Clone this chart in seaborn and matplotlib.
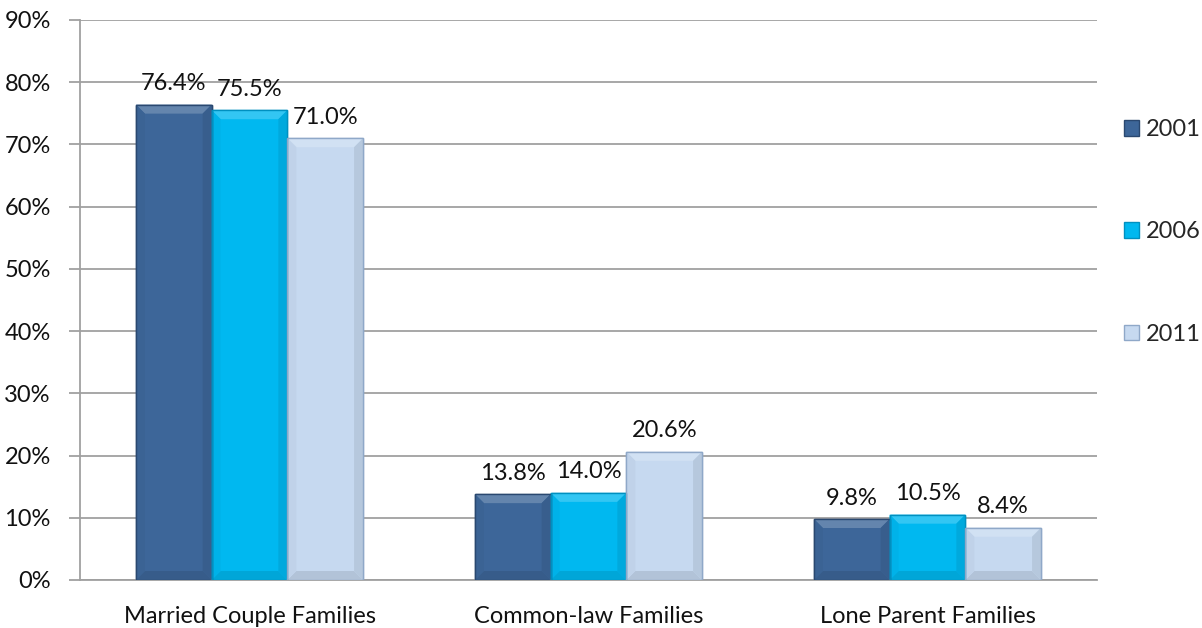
import numpy as np
import matplotlib.pyplot as plt
import matplotlib.colors as mcolors
import pandas as pd
import seaborn as sns

categories = ['Married Couple Families', 'Common-law Families', 'Lone Parent Families']
years = ['2001', '2006', '2011']
pct_2001 = [76.4, 13.8, 9.8]
pct_2006 = [75.5, 14.0, 10.5]
pct_2011 = [71.0, 20.6, 8.4]
yticks = [0, 10, 20, 30, 40, 50, 60, 70, 80, 90]

df = pd.DataFrame({
    'family': categories * 3,
    'year': [y for y in years for _ in categories],
    'pct': pct_2001 + pct_2006 + pct_2011,
})

colors = ['#3D6699', '#00B8F0', '#C6D9F0']
edges = ['#2A4870', '#0090C0', '#8FA8C8']


def mix(c, other, t):
    a = np.array(mcolors.to_rgb(c))
    b = np.array(mcolors.to_rgb(other))
    return tuple(a * (1 - t) + b * t)


sns.set_style('white')
plt.rcParams['font.family'] = ['Lato', 'DejaVu Sans']
FS = 17

W, H = 1202, 628
fig = plt.figure(figsize=(W / 100, H / 100), dpi=100)
ax_px = [80, 48, 1017, 560]
ax = fig.add_axes([ax_px[0] / W, ax_px[1] / H, ax_px[2] / W, ax_px[3] / H])

sns.barplot(data=df, x='family', y='pct', hue='year', palette=colors,
            width=0.67, ax=ax, legend=False, saturation=1)

ax.set_xlim(-0.5, 2.5)
ax.set_ylim(0, 90)

# bevel look, sized in pixels and converted to data units
dx = 9 * 3 / ax_px[2]
dy = 9 * 90 / ax_px[3]
for i, cont in enumerate(ax.containers):
    c = colors[i]
    for bar in cont:
        bar.set_edgecolor(edges[i])
        bar.set_linewidth(1.0)
        x0, w, h = bar.get_x(), bar.get_width(), bar.get_height()
        x1 = x0 + w
        top = [(x0, h), (x1, h), (x1 - dx, h - dy), (x0 + dx, h - dy)]
        bot = [(x0, 0), (x1, 0), (x1 - dx, dy), (x0 + dx, dy)]
        left = [(x0, 0), (x0, h), (x0 + dx, h - dy), (x0 + dx, dy)]
        right = [(x1, 0), (x1, h), (x1 - dx, h - dy), (x1 - dx, dy)]
        for pts, col in [(top, mix(c, 'white', 0.2)), (bot, mix(c, 'black', 0.1)),
                         (left, mix(c, 'black', 0.03)), (right, mix(c, 'black', 0.08))]:
            ax.add_patch(plt.Polygon(pts, closed=True, facecolor=col, lw=0, zorder=3))
        ax.add_patch(plt.Rectangle((x0, 0), w, h, fill=False, edgecolor=edges[i],
                                   lw=1.0, zorder=4))
    ax.bar_label(cont, labels=['%.1f%%' % v for v in cont.datavalues],
                 padding=7.5, fontsize=FS, color='#111111', zorder=5)

ax.set_yticks(yticks)
ax.set_yticklabels(['%d%%' % t for t in yticks], fontsize=FS, color='#111111')
ax.yaxis.grid(True, color='#A0A0A0', lw=1.3)
ax.set_axisbelow(True)
ax.set_xlabel('')
ax.set_ylabel('')
ax.tick_params(axis='x', which='major', length=0, labelsize=FS, pad=19, labelcolor='#111111')
ax.set_xticks([-0.5, 0.5, 1.5, 2.5], minor=True)
ax.tick_params(axis='x', which='minor', length=8, color='#A0A0A0', width=1.3)
ax.tick_params(axis='y', length=8, color='#A0A0A0', width=1.3, left=True, pad=13)

for s in ['top', 'right']:
    ax.spines[s].set_visible(False)
for s in ['left', 'bottom']:
    ax.spines[s].set_color('#A0A0A0')
    ax.spines[s].set_linewidth(1.3)

handles = [plt.Rectangle((0, 0), 1, 1, facecolor=c, edgecolor=e) for c, e in zip(colors, edges)]
fig.legend(handles, years, loc='center left', bbox_to_anchor=(1124 / W, 1 - 232 / H),
           frameon=False, fontsize=FS, labelspacing=3.45, handlelength=0.64,
           handleheight=0.64, handletextpad=0.3, borderpad=0, borderaxespad=0)

fig.savefig('out.png', dpi=100)
